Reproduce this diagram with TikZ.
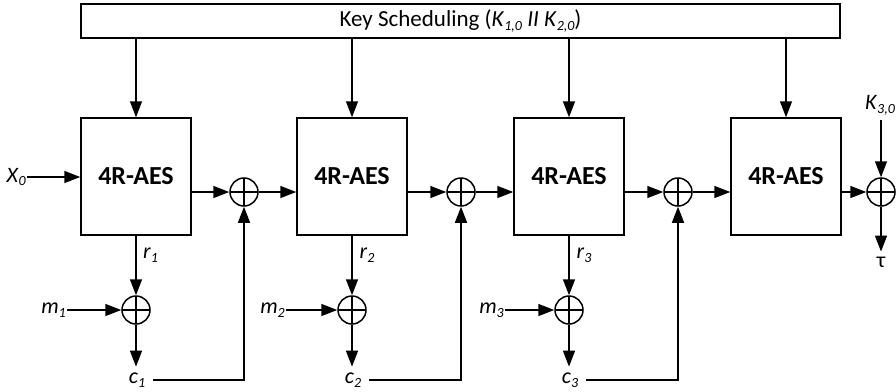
\documentclass[tikz,border=0pt]{standalone}
\usepackage{fontspec}
\setmainfont{Carlito}
\usetikzlibrary{arrows.meta, positioning}
\newcommand{\idx}[2]{\textit{#1}\raisebox{-0.35ex}{\fontsize{14}{14}\selectfont\itshape #2}}
\tikzset{
  aesbox/.style={rectangle, draw, line width=1.5pt, minimum width=110pt, minimum height=117pt, inner sep=0pt, font=\fontsize{26}{30}\selectfont\bfseries},
  keybox/.style={rectangle, draw, line width=1.5pt, minimum width=759pt, minimum height=34pt, inner sep=0pt, font=\fontsize{23}{27}\selectfont},
  xorgate/.style={circle, draw, line width=1.5pt, minimum size=28pt, inner sep=0pt,
    path picture={\draw[line width=1.2pt] (path picture bounding box.north) -- (path picture bounding box.south)
      (path picture bounding box.west) -- (path picture bounding box.east);}},
  lbl/.style={inner sep=1pt, font=\fontsize{22}{26}\selectfont},
  clbl/.style={inner xsep=8pt, inner ysep=6pt, font=\fontsize{22}{26}\selectfont},
  myarrow/.style={-{Triangle[length=16pt, width=12pt]}, line width=1.5pt},
}

\begin{document}
\begin{tikzpicture}[x=1pt, y=-1pt]
  \useasboundingbox (0,0) rectangle (896,391);

  \node[keybox] (ks) at (460.5, 21) {Key Scheduling (\idx{K}{1,0} \textit{II} \idx{K}{2,0})};

  % rounds
  \foreach \i/\x in {1/136, 2/352, 3/569, 4/786} {
    \node[aesbox] (b\i) at (\x, 176.5) {4R-AES};
    \draw[myarrow] (ks.south -| b\i) -- (b\i.north);
  }

  % chaining xors
  \node[xorgate] (x1) at (244, 192) {};
  \node[xorgate] (x2) at (461, 192) {};
  \node[xorgate] (x3) at (678, 192) {};
  \node[xorgate] (x4) at (881, 192) {};

  % message xors
  \node[xorgate] (xm1) at (136, 310) {};
  \node[xorgate] (xm2) at (352, 310) {};
  \node[xorgate] (xm3) at (569, 310) {};

  \node[lbl, anchor=east] (x0) at (27, 177) {\idx{X}{0}};
  \draw[myarrow] (x0.east) -- (x0.east -| b1.west);

  \node[lbl, anchor=west] (r1) at (142, 255) {\idx{r}{1}};
  \node[lbl, anchor=west] (r2) at (358.5, 255) {\idx{r}{2}};
  \node[lbl, anchor=west] (r3) at (575.5, 255) {\idx{r}{3}};

  \node[lbl, anchor=east] (m1) at (67, 310) {\idx{m}{1}};
  \node[lbl, anchor=east] (m2) at (286, 310) {\idx{m}{2}};
  \node[lbl, anchor=east] (m3) at (505, 310) {\idx{m}{3}};

  \node[clbl] (c1) at (137, 380) {\idx{c}{1}};
  \node[clbl] (c2) at (353, 380) {\idx{c}{2}};
  \node[clbl] (c3) at (570, 380) {\idx{c}{3}};

  \node[lbl, inner sep=5pt] (k3) at (880, 105) {\idx{K}{3,0}};
  \node[lbl, inner sep=5pt] (tau) at (881, 262) {τ};

  \foreach \i in {1,2,3} {
    \draw[myarrow] (b\i.south) -- (xm\i.north);
    \draw[myarrow] (m\i.east) -- (xm\i.west);
    \draw[myarrow] (xm\i.south) -- (xm\i |- c\i.north);
    \draw[myarrow] (c\i.east) -| (x\i.south);
  }

  \draw[myarrow] (b1.east |- x1) -- (x1.west);
  \draw[myarrow] (x1.east) -- (x1 -| b2.west);
  \draw[myarrow] (b2.east |- x2) -- (x2.west);
  \draw[myarrow] (x2.east) -- (x2 -| b3.west);
  \draw[myarrow] (b3.east |- x3) -- (x3.west);
  \draw[myarrow] (x3.east) -- (x3 -| b4.west);
  \draw[myarrow] (b4.east |- x4) -- (x4.west);

  \draw[myarrow] (k3.south -| x4) -- (x4.north);
  \draw[myarrow] (x4.south) -- (tau.north -| x4);
\end{tikzpicture}
\end{document}
